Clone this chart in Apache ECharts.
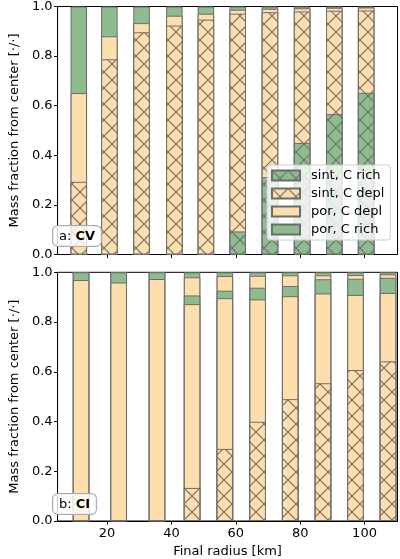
<!DOCTYPE html>
<html>
<head>
<meta charset="utf-8">
<script src="https://cdn.jsdelivr.net/npm/echarts@6/dist/echarts.min.js"></script>
<style>
  html, body { margin: 0; padding: 0; background: #fff; }
  #chart { width: 400px; height: 559px; }
</style>
</head>
<body>
<div id="chart"></div>
<script>
// panel a (CV): bar positions [km] and the top of each layer (fraction)
var radiiA = [11.2, 20.7, 30.7, 40.9, 50.7, 60.6, 70.6, 80.6, 90.6, 100.5];
var aSintRichTop = [0, 0, 0, 0, 0, 0.093, 0.312, 0.45, 0.566, 0.652];
var aSintDeplTop = [0.293, 0.787, 0.896, 0.923, 0.947, 0.971, 0.977, 0.98, 0.983, 0.984];
var aPorDeplTop  = [0.651, 0.88, 0.933, 0.963, 0.971, 0.987, 0.991, 0.993, 0.995, 0.996];
var aPorRichTop  = [1, 1, 1, 1, 1, 1, 1, 1, 1, 1];

// panel b (CI): layers from center outward, top of each layer
var radiiB = [11.9, 23.6, 35.5, 46.4, 56.6, 66.8, 76.9, 87.1, 97.2, 107.3];
var bSintDeplTop = [0, 0, 0, 0.133, 0.29, 0.399, 0.49, 0.554, 0.607, 0.642];
var bPorDepl1Top = [0.969, 0.959, 0.973, 0.872, 0.896, 0.891, 0.904, 0.915, 0.909, 0.917];
var bPorRich1Top = [1, 1, 1, 0.907, 0.926, 0.938, 0.945, 0.972, 0.974, 0.978];
var bPorDepl2Top = [1, 1, 1, 0.98, 0.985, 0.986, 0.988, 0.988, 0.989, 0.992];
var bPorRich2Top = [1, 1, 1, 1, 1, 1, 1, 1, 1, 1];

var xTicks = [20, 40, 60, 80, 100];
var names = ['sint, C rich', 'sint, C depl', 'por, C depl', 'por, C rich'];

var GREEN = '#8fbc8f', ORANGE = '#ffdead', EDGE = '#6c6c6c';

// cross hatch tile, like matplotlib's 'x'
function hatch(base) {
  var n = 16;
  var c = document.createElement('canvas');
  c.width = n; c.height = n;
  var ctx = c.getContext('2d');
  ctx.fillStyle = base;
  ctx.fillRect(0, 0, n, n);
  ctx.strokeStyle = EDGE;
  ctx.lineWidth = 1.1;
  ctx.beginPath();
  ctx.moveTo(-1, -1); ctx.lineTo(n + 1, n + 1);
  ctx.moveTo(-1, n + 1); ctx.lineTo(n + 1, -1);
  ctx.stroke();
  return { image: c, repeat: 'repeat' };
}

var fills = {
  'sint, C rich': hatch(GREEN),
  'sint, C depl': hatch(ORANGE),
  'por, C depl': ORANGE,
  'por, C rich': GREEN
};

function pairs(xs, ys) {
  return xs.map(function (x, i) { return [x, ys[i]]; });
}

// layers are drawn from 0 up to their top, outermost first, so inner ones sit above
function bar(name, idx, xs, ys) {
  return {
    name: name,
    type: 'bar',
    xAxisIndex: idx,
    yAxisIndex: idx,
    barWidth: 16.5,
    barGap: '-100%',
    itemStyle: { color: fills[name], borderColor: EDGE, borderWidth: 1 },
    emphasis: { disabled: true },
    data: pairs(xs, ys)
  };
}

var font = 'DejaVu Sans';
var fs = 13;

function xAxis(idx, labels) {
  return {
    type: 'value', gridIndex: idx, min: 4.6, max: 110.25,
    axisLine: { show: true, onZero: false, lineStyle: { color: '#000' } },
    axisTick: { show: true, length: 3.5, customValues: xTicks, lineStyle: { color: '#000' } },
    axisLabel: { show: labels, customValues: xTicks, color: '#000', fontSize: fs, fontFamily: font, margin: 6 },
    splitLine: { show: false },
    name: labels ? 'Final radius [km]' : '',
    nameLocation: 'middle', nameGap: 24,
    nameTextStyle: { color: '#000', fontSize: fs, fontFamily: font }
  };
}

function yAxis(idx) {
  return {
    type: 'value', gridIndex: idx, min: 0, max: 1, interval: 0.2,
    axisLine: { show: true, lineStyle: { color: '#000' } },
    axisTick: { show: true, length: 3.5, lineStyle: { color: '#000' } },
    axisLabel: { color: '#000', fontSize: fs, fontFamily: font, margin: 5,
      formatter: function (v) { return v.toFixed(1); } },
    splitLine: { show: false },
    name: 'Mass fraction from center [·/·]',
    nameLocation: 'middle', nameGap: 28,
    nameTextStyle: { color: '#000', fontSize: fs, fontFamily: font }
  };
}

function tag(letter, bold, x, y) {
  return {
    type: 'text', left: x, top: y, z: 100,
    style: {
      text: '{n|' + letter + ': }{b|' + bold + '}',
      rich: {
        n: { fontSize: fs, fontFamily: font, fill: '#000' },
        b: { fontSize: fs, fontFamily: font, fontWeight: 'bold', fill: '#000' }
      },
      backgroundColor: 'rgba(255,255,255,0.8)',
      borderColor: '#aaa', borderWidth: 1, borderRadius: 5,
      padding: [4, 6, 3, 6]
    }
  };
}

var chart = echarts.init(document.getElementById('chart'), null, { renderer: 'canvas' });
chart.setOption({
  animation: false,
  textStyle: { fontFamily: font },
  grid: [
    { left: 43, top: 5, width: 354.5, height: 249.5, show: true, borderColor: '#000', borderWidth: 1, backgroundColor: 'transparent' },
    { left: 43, top: 272.3, width: 354.5, height: 250.4, show: true, borderColor: '#000', borderWidth: 1, backgroundColor: 'transparent' }
  ],
  xAxis: [xAxis(0, false), xAxis(1, true)],
  yAxis: [yAxis(0), yAxis(1)],
  legend: {
    data: names, orient: 'vertical', left: 267, top: 165,
    itemWidth: 28, itemHeight: 10, itemGap: 5,
    padding: [4, 6, 4, 4],
    backgroundColor: 'rgba(255,255,255,0.8)',
    borderColor: '#ccc', borderWidth: 1, borderRadius: 3,
    selectedMode: false,
    formatter: function (n) { return '{t|' + n + '}'; },
    textStyle: {
      color: '#000', fontSize: fs, fontFamily: font,
      rich: { t: { fontSize: fs, fontFamily: font, color: '#000', padding: [0, 0, 0, 6] } }
    },
    icon: 'rect'
  },
  graphic: [tag('a', 'CV', 52, 225), tag('b', 'CI', 52, 493)],
  series: [
    bar('por, C rich', 0, radiiA, aPorRichTop),
    bar('por, C depl', 0, radiiA, aPorDeplTop),
    bar('sint, C depl', 0, radiiA, aSintDeplTop),
    bar('sint, C rich', 0, radiiA, aSintRichTop),
    bar('por, C rich', 1, radiiB, bPorRich2Top),
    bar('por, C depl', 1, radiiB, bPorDepl2Top),
    bar('por, C rich', 1, radiiB, bPorRich1Top),
    bar('por, C depl', 1, radiiB, bPorDepl1Top),
    bar('sint, C depl', 1, radiiB, bSintDeplTop)
  ]
});
</script>
</body>
</html>
